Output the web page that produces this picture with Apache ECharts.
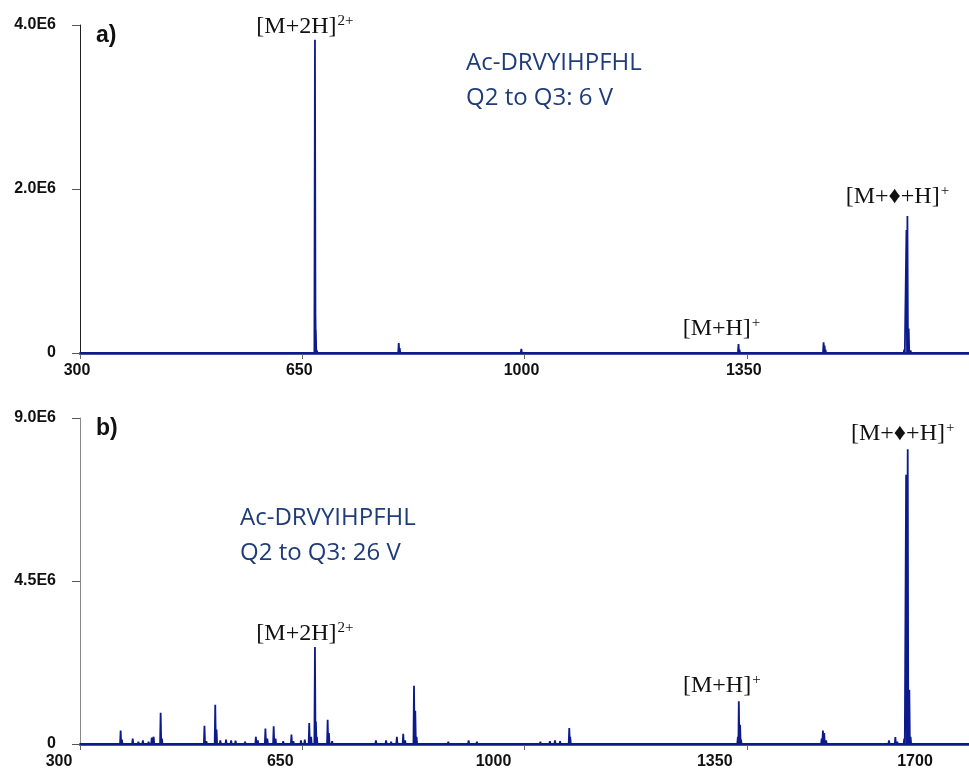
<!DOCTYPE html>
<html>
<head>
<meta charset="utf-8">
<script src="https://cdn.jsdelivr.net/npm/echarts@6/dist/echarts.min.js"></script>
<style>
  html, body { margin: 0; padding: 0; background: #fff; }
  #chart { width: 969px; height: 772px; }
</style>
</head>
<body>
<div id="chart"></div>
<script>
// peak lists: [m/z, intensity]
const peaksA = [
  [335, 8000], [362, 12000], [398, 15000], [421, 20000], [447, 14000], [470, 10000],
  [512, 12000], [546, 9000], [575, 14000], [601, 10000], [628, 12000], [655, 15000],
  [670, 3820000], [670.6, 600000], [671.3, 280000], [673, 30000],
  [712, 10000], [760, 12000], [802, 120000], [803.5, 60000], [815, 20000], [840, 15000],
  [871, 12000], [905, 10000], [948, 12000], [995, 50000], [1010, 15000],
  [1078, 10000], [1135, 12000], [1200, 15000], [1248, 12000], [1290, 12000],
  [1337, 110000], [1338.5, 40000], [1382, 10000], [1425, 15000], [1447, 15000],
  [1471, 130000], [1472.5, 90000], [1474, 40000], [1520, 12000], [1560, 15000],
  [1585, 20000], [1598, 40000], [1601.5, 1500000], [1603, 1670000], [1605, 300000],
  [1608, 30000], [1620, 15000], [1640, 8000]
];

const peaksB = [
  [330, 30000], [351, 40000], [364, 375000], [366, 120000], [383, 150000], [392, 60000],
  [399, 100000], [408, 60000], [413, 180000], [416, 200000], [427, 860000], [429, 150000],
  [450, 40000], [470, 50000], [496, 500000], [499, 80000], [513, 1080000], [515, 400000],
  [521, 100000], [530, 120000], [538, 100000], [545, 90000], [560, 60000],
  [577, 200000], [580, 100000], [592, 430000], [595, 150000], [605, 490000], [608, 150000],
  [620, 80000], [633, 260000], [636, 80000], [648, 100000], [654, 120000],
  [661, 580000], [664, 200000], [670, 2680000], [671.5, 620000], [673, 200000],
  [690, 670000], [692, 300000], [697, 80000], [720, 40000], [745, 50000],
  [766, 100000], [782, 100000], [790, 60000], [799, 200000], [809, 280000], [812, 100000],
  [826, 1610000], [828, 920000], [830, 200000], [850, 50000], [880, 60000],
  [912, 100000], [925, 60000], [950, 40000], [985, 30000], [1025, 60000], [1040, 80000],
  [1048, 100000], [1056, 80000], [1070.5, 440000], [1072, 200000], [1100, 30000],
  [1160, 40000], [1185, 30000], [1230, 30000], [1280, 30000], [1330, 50000],
  [1336, 200000], [1337.5, 1180000], [1339.5, 530000], [1341, 120000], [1380, 30000],
  [1450, 40000], [1468, 150000], [1470, 370000], [1472, 300000], [1475, 100000],
  [1500, 30000], [1574, 100000], [1584, 190000], [1587, 60000], [1598, 150000],
  [1601, 7430000], [1603.5, 8140000], [1606, 1500000], [1608, 200000], [1630, 40000], [1650, 20000]
];

// labelled ions: [m/z, intensity, name]
const ionsA = [[670, 3820000, 'M2H'], [1337, 110000, 'MH'], [1603, 1670000, 'MXH']];
const ionsB = [[670, 2680000, 'M2H'], [1337.5, 1180000, 'MH'], [1603.5, 8140000, 'MXH']];

const xTicks = [300, 650, 1000, 1350, 1700];
const yMaxA = 4000000, yMaxB = 9000000;
const peptide = 'Ac-DRVYIHPFHL';
const voltA = 'Q2 to Q3: 6 V', voltB = 'Q2 to Q3: 26 V';

const navy = '#0c1a8c';
const textBlue = '#1f3c7a';

// stick spectrum: each peak drawn as a narrow spike from the baseline
function spectrum(peaks) {
  const pts = [[xTicks[0], 0]];
  peaks.slice().sort((a, b) => a[0] - b[0]).forEach(([mz, h]) => {
    pts.push([mz - 0.9, 0], [mz, h], [mz + 0.9, 0]);
  });
  pts.push([xTicks[xTicks.length - 1], 0]);
  return pts;
}

const ionText = {
  M2H: '{m|[M+2H]}{s|2+}',
  MH: '{m|[M+H]}{s|+}',
  MXH: '{m|[M+\u2666+H]}{s|+}'
};
const ionOffset = {
  A: { M2H: [-10, 2], MH: [-17, 0], MXH: [-10, -4] },
  B: { M2H: [-10, 2], MH: [-17, 0], MXH: [-5, 0] }
};
const ionRich = {
  m: { fontFamily: 'Liberation Serif', fontSize: 24, color: '#111', lineHeight: 26 },
  s: { fontFamily: 'Liberation Serif', fontSize: 15, color: '#111', lineHeight: 26, verticalAlign: 'top', padding: [0, 0, 10, 1] }
};

function marks(ions, panel) {
  return {
    symbol: 'rect',
    symbolSize: 1,
    itemStyle: { color: 'rgba(0,0,0,0)' },
    label: {
      show: true,
      position: 'top',
      distance: 2,
      formatter: p => ionText[p.name],
      rich: ionRich
    },
    data: ions.map(([mz, h, name]) => ({
      name,
      coord: [mz, h],
      label: { offset: ionOffset[panel][name] }
    }))
  };
}

// bottom panel labels sit left of their ticks in the reference
const shiftB = { 300: 21, 650: 22, 1000: 31, 1350: 32, 1700: 54 };
const richB = {};
xTicks.forEach(v => {
  richB['t' + v] = { fontFamily: 'Liberation Sans', fontWeight: 'bold', fontSize: 16, color: '#111', padding: [0, shiftB[v] * 2, 0, 0] };
});

const yFmt = v => v === 0 ? '0' : (v / 1e6).toFixed(1) + 'E6';

const xBase = {
  type: 'value',
  min: xTicks[0],
  max: xTicks[xTicks.length - 1],
  interval: 350,
  splitLine: { show: false },
  axisLine: { lineStyle: { color: navy, width: 2.5 } },
  axisTick: { show: true, length: 6, lineStyle: { color: '#666' } },
  axisLabel: {
    margin: 10,
    fontFamily: 'Liberation Sans',
    fontWeight: 'bold',
    fontSize: 16,
    color: '#111'
  }
};

const yBase = {
  type: 'value',
  min: 0,
  splitLine: { show: false },
  axisTick: { show: true, length: 8, lineStyle: { color: '#555' } },
  axisLabel: {
    margin: 24,
    fontFamily: 'Liberation Sans',
    fontWeight: 'bold',
    fontSize: 16,
    color: '#111',
    formatter: yFmt
  }
};

const chart = echarts.init(document.getElementById('chart'));
chart.setOption({
  animation: false,
  backgroundColor: '#fff',
  grid: [
    { left: 80, top: 25, width: 892, height: 328 },
    { left: 80, top: 418, width: 892, height: 326 }
  ],
  xAxis: [
    Object.assign({}, xBase, {
      gridIndex: 0,
      axisLabel: Object.assign({}, xBase.axisLabel, {
        showMaxLabel: false,
        padding: [0, 6, 0, 0],
        formatter: v => String(v)
      })
    }),
    Object.assign({}, xBase, {
      gridIndex: 1,
      axisLabel: Object.assign({}, xBase.axisLabel, {
        showMaxLabel: true,
        formatter: v => '{t' + v + '|' + v + '}',
        rich: richB
      })
    })
  ],
  yAxis: [
    Object.assign({}, yBase, {
      gridIndex: 0, max: yMaxA, interval: yMaxA / 2,
      axisLine: { show: true, lineStyle: { color: '#222' } }
    }),
    Object.assign({}, yBase, {
      gridIndex: 1, max: yMaxB, interval: yMaxB / 2,
      axisLine: { show: true, lineStyle: { color: '#888' } }
    })
  ],
  title: [
    { text: 'a)', left: 96, top: 24, textStyle: { fontFamily: 'Liberation Sans', fontWeight: 'bold', fontSize: 23, color: '#111' }, padding: 0 },
    { text: 'b)', left: 96, top: 417, textStyle: { fontFamily: 'Liberation Sans', fontWeight: 'bold', fontSize: 23, color: '#111' }, padding: 0 }
  ],
  graphic: [
    {
      type: 'text', left: 466, top: 46,
      style: { text: peptide + '\n' + voltA, font: '24px "Open Sans"', fill: textBlue, lineHeight: 35 }
    },
    {
      type: 'text', left: 240, top: 501,
      style: { text: peptide + '\n' + voltB, font: '24px "Open Sans"', fill: textBlue, lineHeight: 35 }
    }
  ],
  series: [
    {
      type: 'line',
      xAxisIndex: 0, yAxisIndex: 0,
      data: spectrum(peaksA),
      showSymbol: false,
      lineStyle: { color: navy, width: 1.8 },
      z: 3,
      markPoint: marks(ionsA, 'A')
    },
    {
      type: 'line',
      xAxisIndex: 1, yAxisIndex: 1,
      data: spectrum(peaksB),
      showSymbol: false,
      lineStyle: { color: navy, width: 1.8 },
      z: 3,
      markPoint: marks(ionsB, 'B')
    }
  ]
});
</script>
</body>
</html>
